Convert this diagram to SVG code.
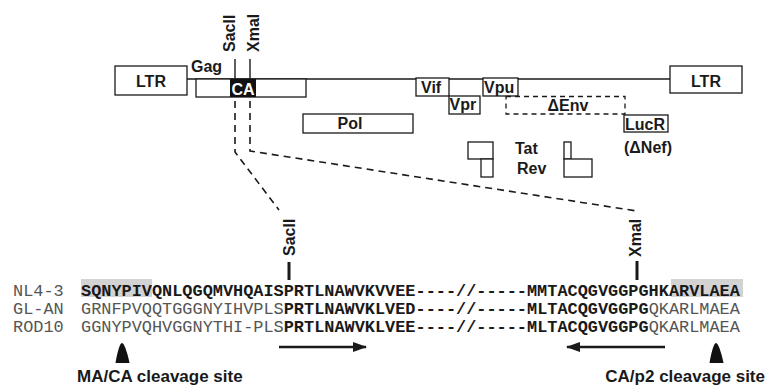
<svg xmlns="http://www.w3.org/2000/svg" width="766" height="386" viewBox="0 0 766 386">
<style>
.box{fill:#fff;stroke:#1a1a1a;stroke-width:1.3}
.lab{font-family:"Liberation Sans",Arial,sans-serif;font-weight:bold;font-size:16px;fill:#1a1a1a}
.dash{fill:none;stroke:#1a1a1a;stroke-width:1.6;stroke-dasharray:7,5}
.seq{font-family:"Liberation Mono","Courier New",monospace;font-size:16.9px;fill:#555}
.b{font-weight:bold;fill:#1a1a1a}
.hl{fill:#d3d3d3}
.thick{stroke:#1a1a1a;stroke-width:3}
.thin{stroke:#1a1a1a;stroke-width:1.4}
.arr{stroke:#1a1a1a;stroke-width:2.6}
</style>
<defs>
<marker id="ah" markerWidth="14" markerHeight="10" refX="13" refY="5" orient="auto" markerUnits="userSpaceOnUse">
<path d="M0,0 L14,5 L0,10 Z" fill="#1a1a1a"/>
</marker>
</defs>
<rect width="766" height="386" fill="#fff"/>

<g id="connectors">
<line x1="187" y1="79" x2="670" y2="79" class="thin"/>
<path class="dash" d="M235,101 V152 L279,210"/>
<path class="dash" d="M250,101 V151 L637,211"/>
<line x1="235" y1="59" x2="235" y2="79" class="thin"/>
<line x1="250" y1="59" x2="250" y2="79" class="thin"/>
<line x1="289" y1="262" x2="289" y2="280" class="thick"/>
<line x1="637" y1="261" x2="637" y2="280" class="thick"/>
<line x1="279" y1="347" x2="366" y2="347" class="arr" marker-end="url(#ah)"/>
<line x1="665" y1="347" x2="567" y2="347" class="arr" marker-end="url(#ah)"/>
</g>

<g id="ltr-left"><rect class="box" x="115" y="66" width="72" height="29"/><text class="lab" x="151" y="87" text-anchor="middle">LTR</text></g>
<g id="ltr-right"><rect class="box" x="670" y="66" width="72" height="27"/><text class="lab" x="706" y="87" text-anchor="middle">LTR</text></g>
<g id="gag"><rect class="box" x="196" y="79" width="110" height="18"/><text class="lab" x="191" y="72">Gag</text></g>
<g id="ca"><rect x="230" y="79" width="26" height="18" fill="#111"/><text class="lab" x="243" y="94.5" text-anchor="middle" style="fill:#fff">CA</text></g>
<g id="sacII-top"><text class="lab" transform="translate(235,52) rotate(-90)">SacII</text></g>
<g id="xmaI-top"><text class="lab" transform="translate(259,52) rotate(-90)">XmaI</text></g>
<g id="pol"><rect class="box" x="303" y="114" width="110" height="19"/><text class="lab" x="350" y="129" text-anchor="middle">Pol</text></g>
<g id="vif"><rect class="box" x="416" y="78" width="33" height="18"/><text class="lab" x="421" y="93">Vif</text></g>
<g id="vpr"><rect class="box" x="449" y="96" width="31" height="18"/><text class="lab" x="449.5" y="110">Vpr</text></g>
<g id="vpu"><rect class="box" x="483" y="78" width="35" height="18"/><text class="lab" x="484" y="93">Vpu</text></g>
<g id="env"><rect x="506" y="96.5" width="119" height="17.5" class="dash" style="stroke-width:1.3;stroke-dasharray:5,4"/><text class="lab" x="568" y="111" text-anchor="middle">ΔEnv</text></g>
<g id="lucr"><rect class="box" x="624" y="115" width="44" height="17"/><text class="lab" x="625" y="130">LucR</text><text class="lab" x="648" y="153" text-anchor="middle">(ΔNef)</text></g>
<g id="tat-rev">
<rect class="box" x="468" y="142" width="25" height="17"/>
<rect class="box" x="481" y="159" width="12" height="18"/>
<rect class="box" x="564" y="142" width="7" height="17"/>
<rect class="box" x="564" y="159" width="28" height="18"/>
<text class="lab" x="515" y="154">Tat</text>
<text class="lab" x="517" y="174">Rev</text>
</g>
<g id="sacII-low"><text class="lab" transform="translate(295,256) rotate(-90)">SacII</text></g>
<g id="xmaI-low"><text class="lab" transform="translate(641,257) rotate(-90)">XmaI</text></g>

<g id="alignment">
<rect class="hl" x="81" y="279" width="71" height="18"/>
<rect class="hl" x="671" y="279" width="72" height="18"/>
<text class="seq" x="13" y="296">NL4-3</text>
<text class="seq" x="13" y="314">GL-AN</text>
<text class="seq" x="13" y="332">ROD10</text>
<text class="seq" x="81" y="296"><tspan class="b">SQNYPIVQNLQGQMVHQAISPRTLNAWVKVVEE----//-----MMTACQGVGGPGHKARVLAEA</tspan></text>
<text class="seq" x="81" y="314">GRNFPVQQTGGGNYIHVPLS<tspan class="b">PRTLNAWVKLVED----//-----MLTACQGVGGPG</tspan>QKARLMAEA</text>
<text class="seq" x="81" y="332">GGNYPVQHVGGNYTHI-PLS<tspan class="b">PRTLNAWVKLVEE----//-----MLTACQGVGGPG</tspan>QKARLMAEA</text>
</g>

<g id="ma-ca-site">
<path d="M122,343 C125,343 129,360 129.5,363 L115.5,363 C116,360 119,343 122,343 Z" fill="#111"/>
<text class="lab" x="77" y="382" style="font-size:17px">MA/CA cleavage site</text>
</g>
<g id="ca-p2-site">
<path d="M716,343 C719,343 723,360 723.5,363 L709.5,363 C710,360 713,343 716,343 Z" fill="#111"/>
<text class="lab" x="765" y="382" text-anchor="end" style="font-size:17px">CA/p2 cleavage site</text>
</g>
</svg>
